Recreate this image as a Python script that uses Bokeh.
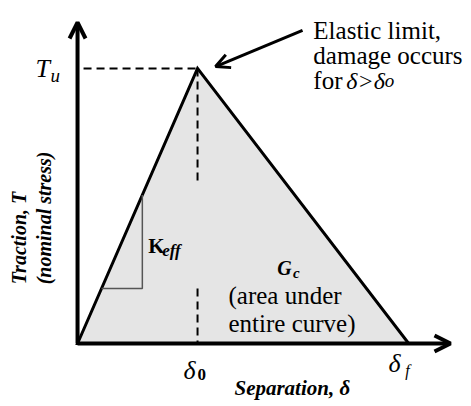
from bokeh.plotting import figure
from bokeh.models import Range1d, Arrow, OpenHead, Label
from bokeh.embed import file_html
from bokeh.resources import INLINE

# Bilinear traction-separation law (normalised: delta_0 = 1, T_u = 1)
separation = [0.0, 1.0, 2.76]     # 0, delta_0, delta_f
traction = [0.0, 1.0, 0.0]        # 0, T_u, 0
stiffness_leg = [0.2, 0.54]       # slope triangle for K_eff (run start / end)

delta0, deltaf = separation[1], separation[2]
Tu = traction[1]

SERIF = "Liberation Serif"

p = figure(width=471, height=406, output_backend="svg", toolbar_location=None,
           x_range=Range1d(-0.642, 3.283), y_range=Range1d(-0.229, 1.247),
           min_border=0)
p.axis.visible = False
p.grid.visible = False
p.outline_line_color = None
p.background_fill_color = "white"

# area under the curve
p.patch(separation, traction, fill_color="#e5e5e5", line_color="black",
        line_width=3, line_join="miter")

# guide lines to the peak
p.line([0.05, delta0], [Tu, Tu], line_color="black", line_width=2, line_dash="8 5")
p.line([delta0, delta0], [Tu, 0.593], line_color="black", line_width=2, line_dash="8 5")
p.line([delta0, delta0], [0.2, 0.0], line_color="black", line_width=2, line_dash="8 5")

# slope triangle for the initial stiffness
a, b = stiffness_leg
p.line([a, b, b], [a * Tu / delta0, a * Tu / delta0, b * Tu / delta0],
       line_color="#555555", line_width=1.5)

# axes with arrow heads
p.add_layout(Arrow(end=OpenHead(size=16, line_width=4), x_start=0, y_start=0,
                   x_end=0, y_end=1.167, line_width=4))
p.add_layout(Arrow(end=OpenHead(size=16, line_width=4), x_start=0, y_start=0,
                   x_end=3.108, y_end=0, line_width=4))

# pointer to the elastic limit
p.add_layout(Arrow(end=OpenHead(size=14, line_width=3), x_start=1.875, y_start=1.138,
                   x_end=delta0 + 0.15, y_end=Tu + 0.007, line_width=3))


def lab(x, y, text, size, style="normal", align="left", baseline="middle",
        angle=0.0, color="black"):
    p.add_layout(Label(x=x, y=y, text=text, text_font=SERIF,
                       text_font_size=f"{size}px", text_font_style=style,
                       text_align=align, text_baseline=baseline, angle=angle,
                       text_color=color))


# annotation text (alphabetic baselines)
lab(1.965, 1.138, "Elastic limit,", 25, baseline="alphabetic")
lab(1.965, 1.047, "damage occurs", 25, baseline="alphabetic")
lab(1.965, 0.956, "for", 25, baseline="alphabetic")
lab(2.24, 0.956, "δ>δ", 24, "italic", baseline="alphabetic")
lab(2.56, 0.956, "o", 19, "italic", baseline="alphabetic")

# peak and end labels
lab(-0.35, Tu, "T", 26, "italic")
lab(-0.225, Tu - 0.025, "u", 19, "italic")
lab(0.883, -0.098, "δ", 26, "italic")
lab(1.0, -0.113, "0", 17, "bold")
lab(2.592, -0.073, "δ", 26, "italic")
lab(2.73, -0.098, "f", 16, "italic")

# stiffness and fracture-energy labels
lab(0.59, 0.356, "K", 21, "bold")
lab(0.705, 0.338, "eff", 17, "bold italic")
lab(1.665, 0.276, "G", 20, "bold italic")
lab(1.795, 0.258, "c", 15, "bold italic")
lab(1.258, 0.175, "(area under", 25)
lab(1.258, 0.073, "entire curve)", 25)

# axis titles
lab(1.79, -0.16, "Separation, δ", 21, "bold italic", align="center")
lab(-0.49, 0.215, "Traction, T", 20, "bold italic", angle=1.5708)
lab(-0.283, 0.215, "(nominal stress)", 20, "bold italic", angle=1.5708)

open("out.html", "w").write(file_html(p, INLINE))
